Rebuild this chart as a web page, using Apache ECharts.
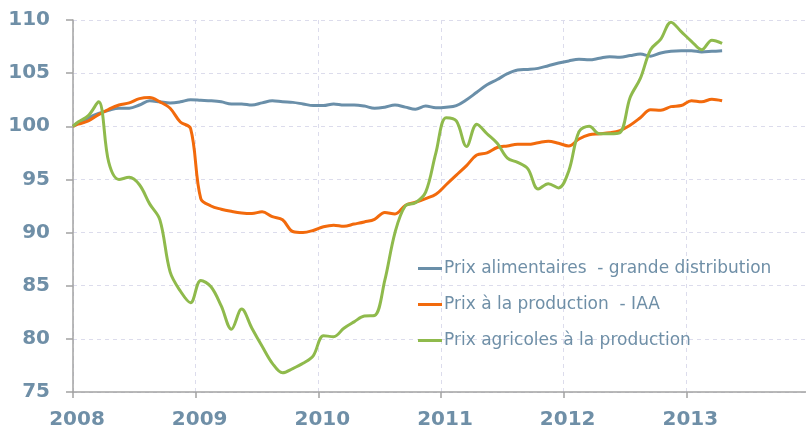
<!DOCTYPE html>
<html>
<head>
<meta charset="utf-8">
<script src="https://cdn.jsdelivr.net/npm/echarts@6/dist/echarts.min.js"></script>
<style>
html,body{margin:0;padding:0;background:#fff;}
#c{width:806px;height:427px;}
</style>
</head>
<body>
<div id="c"></div>
<script>
// Series names
var seriesNames = ['Prix alimentaires  - grande distribution', 'Prix à la production  - IAA', 'Prix agricoles à la production'];
// Year tick labels
var yearTicks = [2008, 2009, 2010, 2011, 2012, 2013];
// Index values: base (start of 2008 = 100), then monthly values Jan 2008 .. Apr 2013
var alimentaires = [100,
  100.3,100.8,101.2,101.5,101.7,101.7,102.0,102.4,102.3,102.2,102.3,102.5,
  102.45,102.4,102.3,102.1,102.1,102.0,102.2,102.4,102.3,102.25,102.1,101.95,
  101.95,102.1,102.0,102.0,101.9,101.7,101.8,102.0,101.8,101.6,101.9,101.75,
  101.8,101.95,102.5,103.2,103.9,104.4,104.95,105.3,105.35,105.45,105.7,105.95,
  106.15,106.3,106.25,106.4,106.55,106.5,106.65,106.8,106.6,106.9,107.05,107.1,
  107.1,107.0,107.05,107.1];
var productionIAA = [100,
  100.2,100.5,101.1,101.6,102.0,102.2,102.6,102.7,102.3,101.7,100.4,99.8,
  93.2,92.5,92.2,92.0,91.85,91.8,91.95,91.5,91.2,90.1,90.0,90.2,
  90.55,90.7,90.6,90.8,91.0,91.25,91.9,91.75,92.55,92.85,93.2,93.6,
  94.5,95.4,96.3,97.3,97.5,98.0,98.15,98.3,98.3,98.45,98.6,98.4,
  98.15,98.8,99.2,99.3,99.4,99.6,100.1,100.8,101.55,101.5,101.85,101.95,
  102.4,102.3,102.55,102.4];
var agricoles = [100,
  100.4,101.0,102.3,96.6,95.0,95.2,94.5,92.7,91.2,86.3,84.5,83.4,
  85.5,84.9,83.1,80.9,82.8,81.0,79.3,77.7,76.8,77.2,77.7,78.4,
  80.3,80.2,81.0,81.6,82.15,82.2,85.5,90.0,92.5,92.8,93.8,97.5,
  100.8,100.5,98.1,100.2,99.3,98.4,97.0,96.6,96.0,94.1,94.6,94.2,
  95.8,99.5,100.0,99.3,99.3,99.4,102.7,104.5,107.2,108.2,109.8,108.9,
  108.0,107.2,108.1,107.8];

// time positions (decimal years): base at 2008.0, then mid-month
var xYears = [2008];
for (var k = 1; k < alimentaires.length; k++) xYears.push(2008 + (k - 0.5) / 12);

function pairs(vals) { return vals.map(function (v, i) { return [xYears[i], v]; }); }

var colors = ['#6a8fa9', '#f26a0c', '#8fba4c'];
var labelColor = '#6f8fa7';
var chart = echarts.init(document.getElementById('c'), null, {renderer: 'canvas'});
chart.setOption({
  animation: false,
  backgroundColor: '#ffffff',
  color: colors,
  grid: {left: 73, width: 736, top: 20, bottom: 35, containLabel: false, outerBoundsMode: 'none'},
  legend: {
    orient: 'vertical',
    left: 418,
    top: 260,
    padding: 0,
    icon: 'rect',
    itemWidth: 24,
    itemHeight: 3,
    itemGap: 19,
    textStyle: {fontFamily: 'DejaVu Sans, sans-serif', fontSize: 17, color: labelColor, lineHeight: 16, padding: [0, 0, 0, -3]},
    data: seriesNames
  },
  xAxis: {
    type: 'value',
    min: 2008, max: 2014, interval: 1,
    axisLine: {show: true, lineStyle: {color: '#a3a3a3', width: 1.5}},
    axisTick: {show: true, length: 6, lineStyle: {color: '#a3a3a3', width: 1.5}},
    splitLine: {show: true, lineStyle: {color: '#dcdcec', type: [4, 4], width: 1}},
    axisLabel: {
      margin: 18,
      padding: [0, 0, 0, 8],
      fontFamily: 'DejaVu Sans, sans-serif', fontWeight: 'bold', fontSize: 20, color: labelColor,
      formatter: function (v) { return yearTicks.indexOf(v) >= 0 ? String(v) : ''; }
    }
  },
  yAxis: {
    type: 'value',
    min: 75, max: 110, interval: 5,
    axisLine: {show: true, lineStyle: {color: '#a3a3a3', width: 1.5}},
    axisTick: {show: true, length: 7, lineStyle: {color: '#a3a3a3', width: 1.5}},
    splitLine: {show: true, lineStyle: {color: '#dcdcec', type: [4, 4], width: 1}},
    axisLabel: {
      margin: 23,
      fontFamily: 'DejaVu Sans, sans-serif', fontWeight: 'bold', fontSize: 20, color: labelColor
    }
  },
  series: [
    {name: seriesNames[0], type: 'line', data: pairs(alimentaires), showSymbol: false, smooth: 0.35, lineStyle: {width: 3, color: colors[0]}, z: 2},
    {name: seriesNames[1], type: 'line', data: pairs(productionIAA), showSymbol: false, smooth: 0.35, lineStyle: {width: 3, color: colors[1]}, z: 3},
    {name: seriesNames[2], type: 'line', data: pairs(agricoles), showSymbol: false, smooth: 0.35, lineStyle: {width: 3, color: colors[2]}, z: 4}
  ]
});
</script>
</body>
</html>
